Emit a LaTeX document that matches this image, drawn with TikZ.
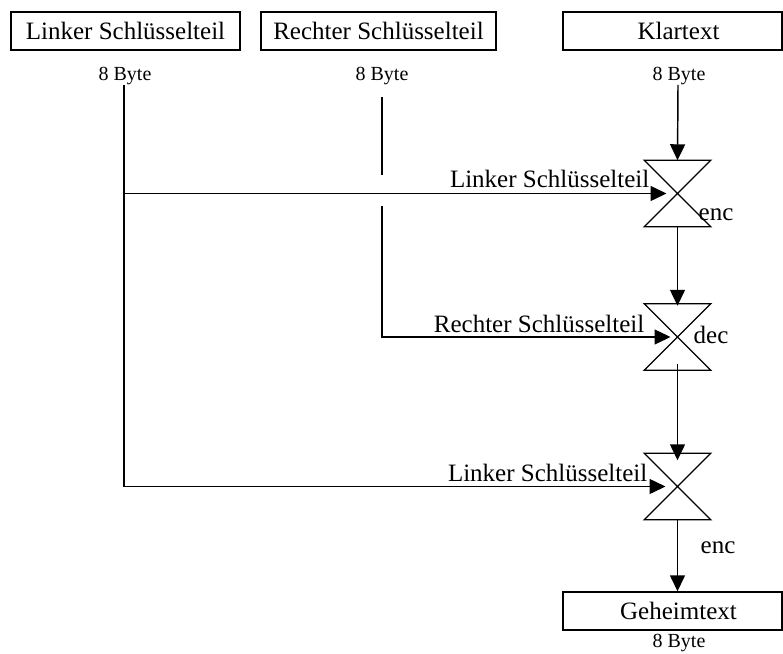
\documentclass[tikz,border=0pt]{standalone}
\usepackage{fontspec}
\setmainfont{Liberation Serif}
\usetikzlibrary{arrows.meta}
\begin{document}
\begin{tikzpicture}[x=1pt,y=-1pt,
  line width=1.45pt,
  keybox/.style={draw,rectangle,inner sep=0pt,font=\fontsize{25}{30}\selectfont},
  small/.style={inner sep=0pt,font=\fontsize{20}{24}\selectfont},
  lbl/.style={inner sep=0pt,font=\fontsize{25}{30}\selectfont},
  stage/.style={rectangle,inner sep=0pt,minimum width=65pt,minimum height=65pt},
  arr/.style={-{Triangle[length=16pt,width=15pt]}}
]
\useasboundingbox (0,0) rectangle (783,653);

% input and output boxes
\node[keybox,minimum width=229pt,minimum height=38pt] (lk) at (125.5,31) {Linker Schlüsselteil};
\node[keybox,minimum width=235pt,minimum height=38pt] (rk) at (378.5,31) {Rechter Schlüsselteil};
\node[keybox,minimum width=219pt,minimum height=38pt] (kt) at (672.5,31) {\hspace*{12pt}Klartext};
\node[keybox,minimum width=219pt,minimum height=38pt] (gt) at (672.5,611) {\hspace*{12pt}Geheimtext};

% size labels
\node[small,anchor=base] (b1) at (125,80) {8 Byte};
\node[small,anchor=base] (b2) at (382,80) {8 Byte};
\node[small,anchor=base] (b3) at (679,80) {8 Byte};
\node[small,anchor=base] (b4) at (679,647) {8 Byte};

% cipher stages
\node[stage] (x1) at (677.5,193.5) {};
\node[stage] (x2) at (677.5,337) {};
\node[stage] (x3) at (677.5,486.5) {};
\foreach \s in {x1,x2,x3}
  \draw[line width=1.3pt] (\s.north west) -- (\s.north east) -- (\s.south west) -- (\s.south east) -- cycle;

% stage labels
\node[lbl,anchor=base west] (e1) at (698,220) {enc};
\node[lbl,anchor=base west] (d2) at (693,343) {dec};
\node[lbl,anchor=base west] (e3) at (700,553) {enc};
\node[lbl,anchor=base east] (k1) at (650,187) {Linker Schlüsselteil};
\node[lbl,anchor=base east] (k2) at (645,332) {Rechter Schlüsselteil};
\node[lbl,anchor=base east] (k3) at (648,481) {Linker Schlüsselteil};

% key lines
\coordinate (la) at (124,85);
\coordinate (ra) at (382,97);
\coordinate (rgap1) at (382,175);
\coordinate (rgap2) at (382,206);
\draw[arr] (la) |- ([xshift=-11pt]x1.center);
\draw[arr] (la) |- ([xshift=-12pt]x3.center);
\draw (ra) -- (rgap1);
\draw[arr] (rgap2) |- ([xshift=-7pt]x2.center);

% data path
\coordinate (kt0) at (678,85);
\draw[arr] (kt0) -- (x1.north);
\draw[arr] (x1.south) -- ([yshift=-2pt]x2.north);
\draw[arr] ([yshift=6pt]x2.south) -- ([yshift=-7pt]x3.north);
\draw[arr] (x3.south) -- (gt.north -| x3.south);
\end{tikzpicture}
\end{document}
